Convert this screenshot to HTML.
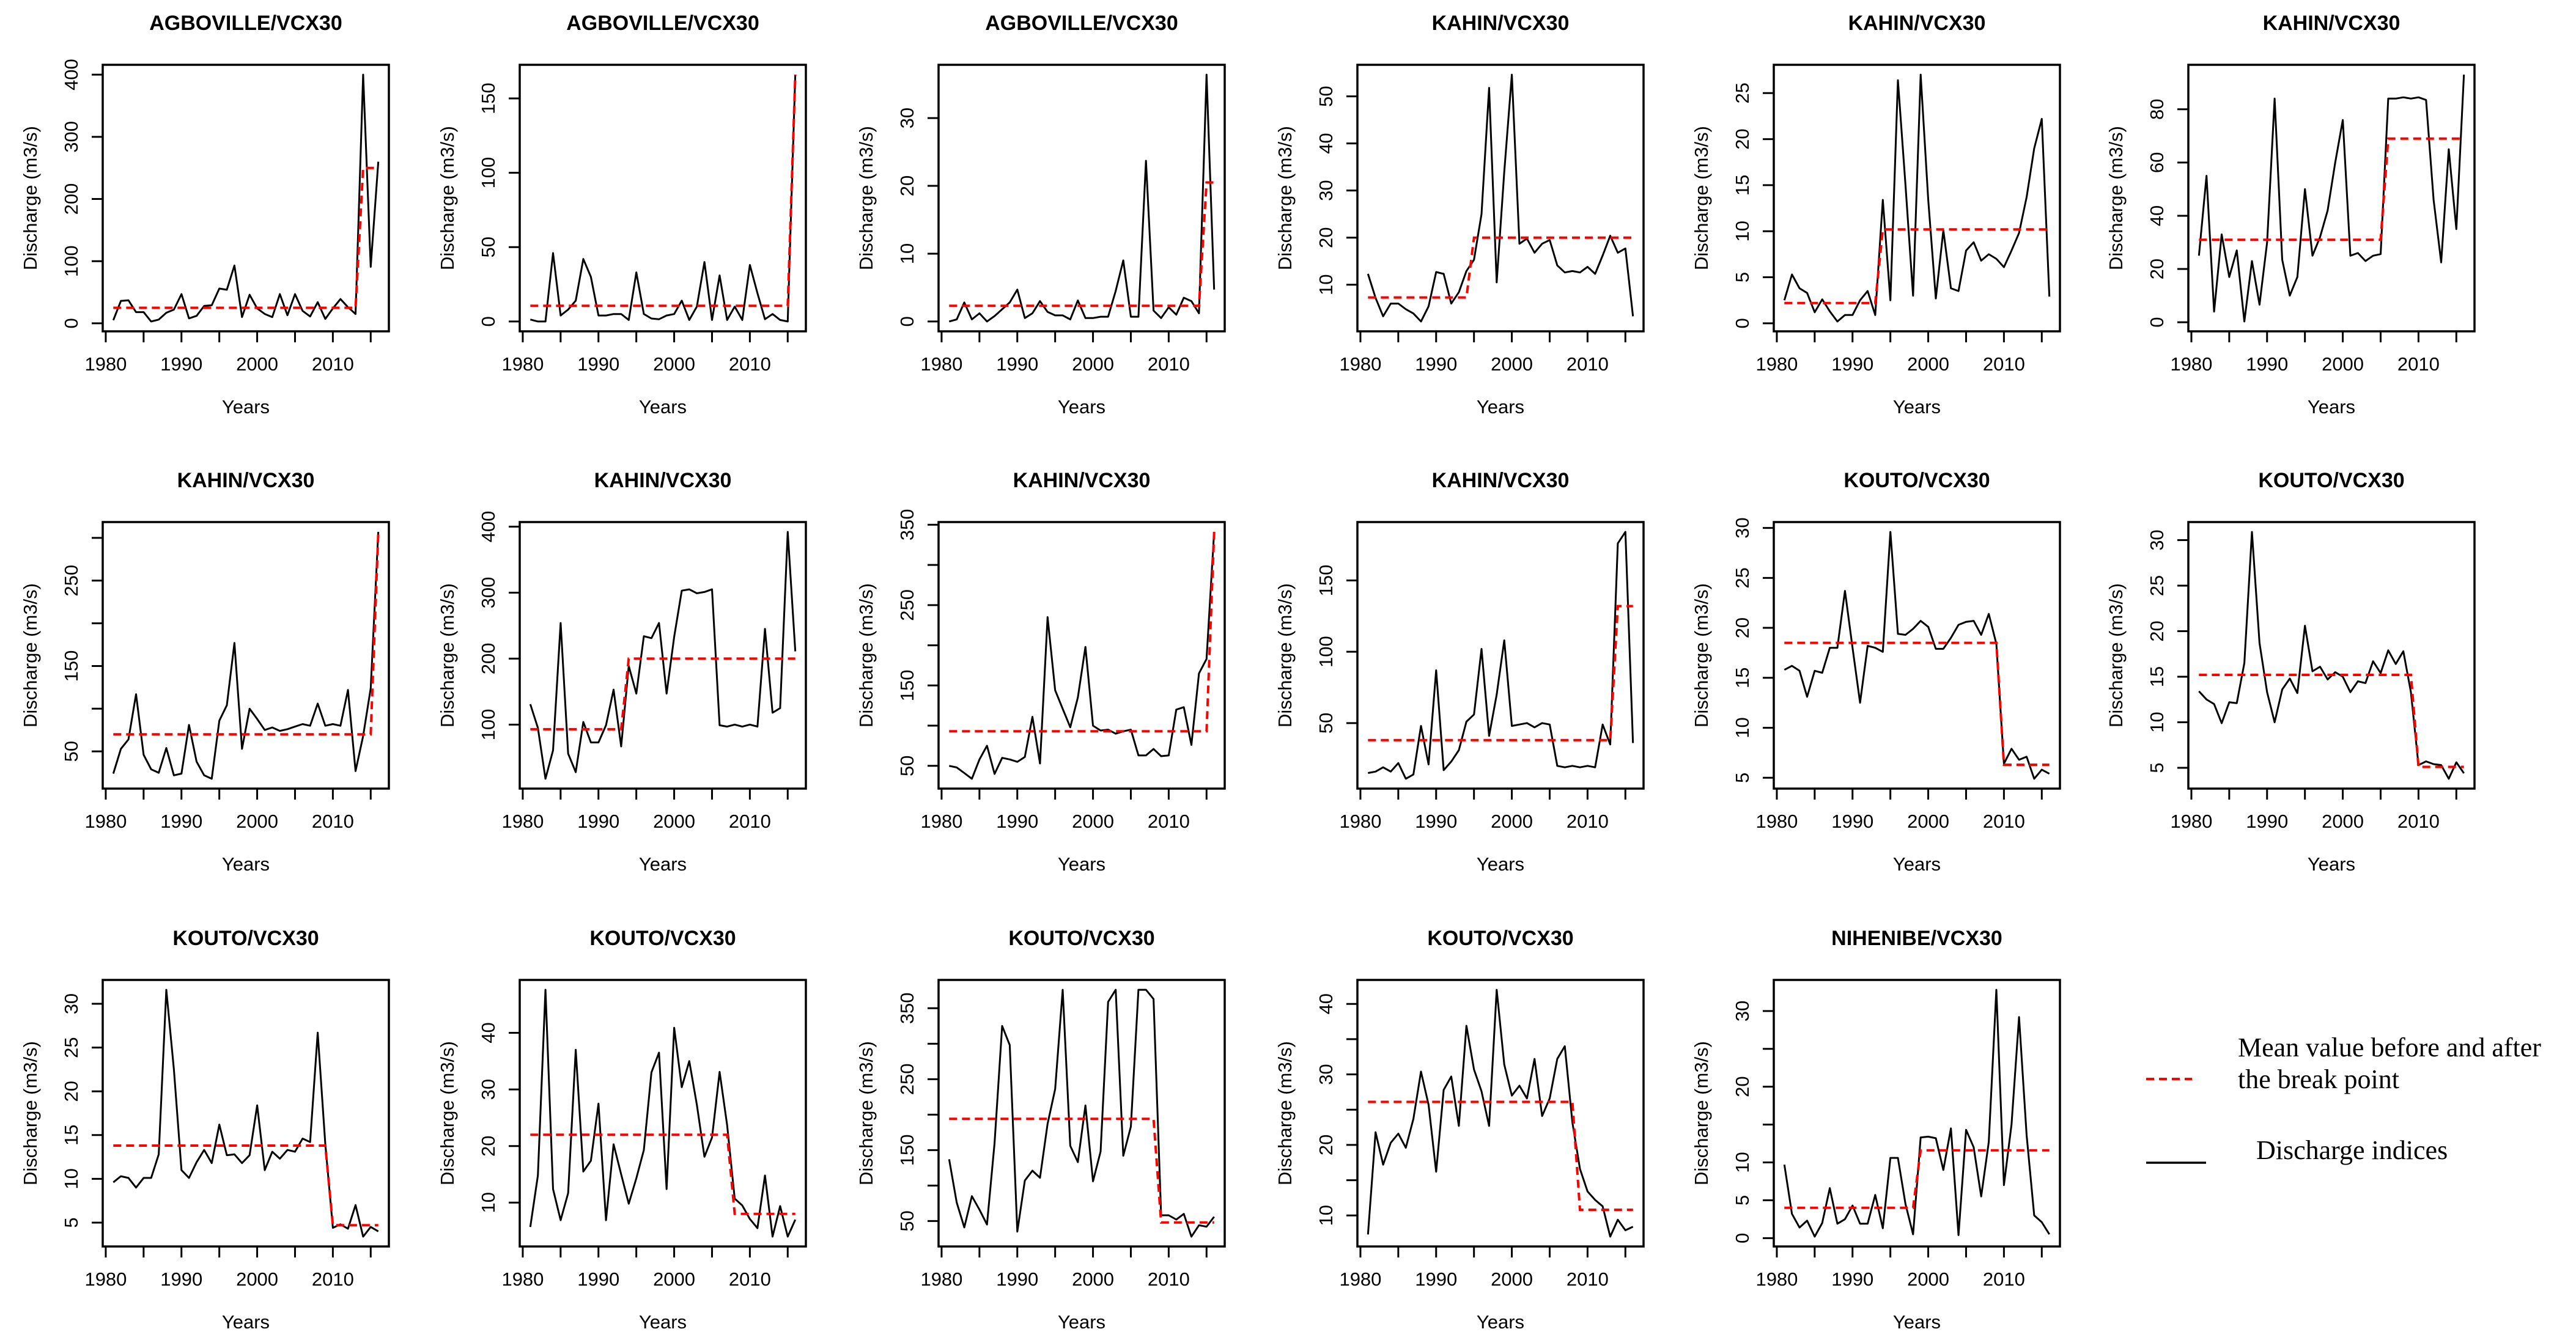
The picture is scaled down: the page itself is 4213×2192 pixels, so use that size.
<!DOCTYPE html>
<html><head><meta charset="utf-8"><title>Discharge break-point panels</title>
<style>
html,body{margin:0;padding:0;background:#fff;}
svg{display:block;}
text{font-family:"Liberation Sans",Arial,sans-serif;fill:#000;}
.title{font-weight:bold;font-size:34px;}
.tick{font-size:31px;}
.lab{font-size:31px;}
.leg{font-family:"Liberation Serif","Times New Roman",serif;font-size:44px;}
</style></head>
<body>
<svg id="chart" width="4213" height="2192" viewBox="0 0 4213 2192" xmlns="http://www.w3.org/2000/svg">
<rect x="0" y="0" width="4213" height="2192" fill="#fff"/>
<g id="panels"></g>
<g id="legend">
  <line x1="3510" y1="1765" x2="3585" y2="1765" stroke="#ff0000" stroke-width="4" stroke-dasharray="13,8"/>
  <text class="leg" x="3660" y="1728">Mean value before and after</text>
  <text class="leg" x="3660" y="1780">the break point</text>
  <line x1="3510" y1="1902" x2="3608" y2="1902" stroke="#000" stroke-width="3.5"/>
  <text class="leg" x="3690" y="1896">Discharge indices</text>
</g>
</svg>
<script>
const years = [1981,1982,1983,1984,1985,1986,1987,1988,1989,1990,1991,1992,1993,1994,1995,1996,1997,1998,1999,2000,2001,2002,2003,2004,2005,2006,2007,2008,2009,2010,2011,2012,2013,2014,2015,2016];
const titles = ["AGBOVILLE/VCX30","AGBOVILLE/VCX30","AGBOVILLE/VCX30","KAHIN/VCX30","KAHIN/VCX30","KAHIN/VCX30","KAHIN/VCX30","KAHIN/VCX30","KAHIN/VCX30","KAHIN/VCX30","KOUTO/VCX30","KOUTO/VCX30","KOUTO/VCX30","KOUTO/VCX30","KOUTO/VCX30","KOUTO/VCX30","NIHENIBE/VCX30"];
const s1 = [5,36,37,18,18,3,6,17,22,47,8,12,28,29,56,54,93,10,46,24,15,10,47,13,47,20,11,34,7,24,39,26,15,400,91,260];
const s2 = [1.3,0,0,46,4,8,14,42,30,4,4,5,5,1,33,5,2,1.5,4,5,14,1,10,40,1,31,1,10,1,38,19,1.5,5,1,0,166];
const s3 = [0,0.3,2.8,0.3,1.2,0,0.8,1.8,2.8,4.7,0.5,1.2,3,1.4,0.9,0.9,0.3,3.1,0.5,0.5,0.7,0.7,4.5,9,0.7,0.7,23.7,1.6,0.5,2.1,1,3.5,3,1.2,36.4,4.7];
const s4 = [12.3,7.2,3.3,6,6,4.8,3.9,2.2,5.4,12.7,12.3,6,8.4,12.9,15.3,25,51.8,10.5,34,54.6,18.7,19.8,16.8,18.7,19.5,14.1,12.6,12.9,12.6,13.8,12.3,16.2,20.4,16.8,17.7,3.3];
const s5 = [2.5,5.3,3.8,3.3,1.2,2.6,1.3,0.2,0.9,0.9,2.5,3.5,0.9,13.4,2.5,26.4,15,3,27,13.4,2.7,10.1,3.8,3.5,7.9,8.8,6.8,7.5,7,6.1,7.9,9.8,13.7,19,22.2,2.9];
const s6 = [25,55,4,33,17,27,0.3,23,6.6,30,84,23.5,10,17,50,25,32,42,60,76,25,26,23,25,25.6,84,84,84.5,84,84.5,83.5,46,22.5,65,35,93];
const s7 = [24,53,64,117,46,29,25,54,22,24,81,38,22,18,86,104,177,53,100,88,75,78,74,76,79,82,80,106,80,82,80,122,27,68,124,307];
const s8 = [131,95,18,61,254,56,28,104,73,73,99,153,67,189,147,234,231,254,147,233,303,305,299,301,305,99,97,100,97,100,97,245,118,125,392,211];
const s9 = [50,48,41,34,58,75,40,60,58,55,61,111,53,235,144,121,98,135,198,100,94,95,90,93,95,63,63,71,62,63,120,123,76,165,183,341];
const s10 = [15,16,19,16,22,11,14,48,21,87,17,23,31,51,56,102,41,70,108,48,49,50,47,50,49,20,19,20,19,20,19,49,35,176,184,36];
const s11 = [15.8,16.2,15.7,13.1,15.7,15.5,18,18,23.7,18,12.5,18.2,18,17.6,29.6,19.4,19.3,19.9,20.7,20.1,17.9,17.9,19,20.3,20.6,20.7,19.3,21.4,18.4,6.4,7.9,6.8,7.1,4.9,5.8,5.4];
const s12 = [13.4,12.5,12,9.9,12.2,12.1,16.5,30.9,18.7,13.3,10,13.6,14.8,13.2,20.6,15.6,16.1,14.7,15.5,15,13.3,14.5,14.3,16.7,15.4,17.9,16.4,17.8,13.3,5.3,5.7,5.4,5.3,3.8,5.6,4.4];
const s13 = [9.6,10.3,10.1,9,10.1,10.1,12.8,31.6,22.5,11,10.1,11.9,13.3,11.8,16.2,12.7,12.8,11.8,12.7,18.4,11,13.1,12.3,13.3,13.1,14.6,14.2,26.7,14,4.4,4.8,4.3,7,3.4,4.5,4];
const s14 = [5.7,14.8,47.6,12.4,6.9,11.7,37,15.5,17.4,27.5,6.9,20.3,15,9.8,14.3,19.3,33,36.5,12.4,40.9,30.4,35,27.3,18.1,21.5,33.1,23.7,10.7,9.5,7.1,5.5,14.8,4,9.4,4,7];
const s15 = [137,76,41,85,66,45,160,325,298,35,107,121,111,187,236,376,156,133,213,106,148,359,376,142,183,376,376,363,58,58,52,60,28,44,42,56];
const s16 = [7.3,21.8,17.2,20.3,21.6,19.6,23.7,30.4,25.7,16.2,27.8,29.7,22.7,36.9,30.7,27.6,22.7,42,31.4,27,28.4,26.6,32.2,24.1,26.6,32.2,34,23.2,16.6,13.4,12.2,11.3,7,9.4,7.9,8.4];
const s17 = [9.7,3.2,1.4,2.3,0.2,2,6.6,1.9,2.5,4.3,1.9,1.9,5.7,1.3,10.6,10.6,4.5,0.5,13.3,13.4,13.2,9,14.5,0.4,14.3,12,5.5,12.7,32.8,7,15,29.2,13.6,3,2.1,0.5];
const breakYears = [2013,2015,2014,1994,1993,2005,2015,1993,2015,2013,2009,2009,2009,2007,2008,2008,1998];
const meanBefore = [25,10.5,2.3,7.3,2.2,31,70,93,93,38,18.5,15.2,13.8,22,194,26.1,4];
const meanAfter = [250,166,20.5,20,10.2,69,307,200,341,132,6.3,5.1,4.7,8,48,10.8,11.6];
const yTicks = [[0,100,200,300,400],[0,50,100,150],[0,10,20,30],[10,20,30,40,50],[0,5,10,15,20,25],[0,20,40,60,80],[50,100,150,200,250,300],[100,200,300,400],[50,100,150,200,250,300,350],[50,100,150],[5,10,15,20,25,30],[5,10,15,20,25,30],[5,10,15,20,25,30],[10,20,30,40],[50,100,150,200,250,300,350],[10,15,20,25,30,35,40],[0,5,10,15,20,25,30]];
const yLabels = [[0,100,200,300,400],[0,50,100,150],[0,10,20,30],[10,20,30,40,50],[0,5,10,15,20,25],[0,20,40,60,80],[50,150,250],[100,200,300,400],[50,150,250,350],[50,100,150],[5,10,15,20,25,30],[5,10,15,20,25,30],[5,10,15,20,25,30],[10,20,30,40],[50,150,250,350],[10,20,30,40],[0,5,10,20,30]];
const xTicks = [1980,1985,1990,1995,2000,2005,2010,2015];
const xLabels = [1980,1990,2000,2010];

const series = [s1,s2,s3,s4,s5,s6,s7,s8,s9,s10,s11,s12,s13,s14,s15,s16,s17];
const colLeft = [168,850,1535,2220,2901,3579];
const rowTop = [106,854,1603];
const BW = 468, BH = 436;
const NS = "http://www.w3.org/2000/svg";
const root = document.getElementById('panels');

function mk(tag, attrs, parent){
  const e = document.createElementNS(NS, tag);
  for (const k in attrs) e.setAttribute(k, attrs[k]);
  parent.appendChild(e);
  return e;
}

series.forEach(function(data, p){
  const L = colLeft[p % 6], T = rowTop[Math.floor(p / 6)];
  const R = L + BW, B = T + BH;
  const xmin = years[0], xmax = years[years.length-1];
  const xpad = (xmax - xmin) * 0.04;
  const xScale = function(v){ return L + (v - (xmin - xpad)) / ((xmax - xmin) + 2*xpad) * BW; };
  const all = data.concat([meanBefore[p], meanAfter[p]]);
  const ymin = Math.min.apply(null, all), ymax = Math.max.apply(null, all);
  const ypad = (ymax - ymin) * 0.04;
  const yScale = function(v){ return B - (v - (ymin - ypad)) / ((ymax - ymin) + 2*ypad) * BH; };

  const g = mk('g', {}, root);
  
  

  const t = mk('text', {x: L + BW/2, y: T - 57, 'text-anchor': 'middle', class: 'title'}, g);
  t.textContent = titles[p];
  
  

  // discharge line
  const pts = data.map(function(v, i){ return xScale(years[i]).toFixed(1) + ',' + yScale(v).toFixed(1); }).join(' ');
  const pl = mk('polyline', {points: pts, fill: 'none', stroke: '#000', 'stroke-width': 3, 'stroke-linejoin': 'round'}, g);
  
  

  // mean line
  const mpts = years.map(function(yr){
    const m = yr <= breakYears[p] ? meanBefore[p] : meanAfter[p];
    return xScale(yr).toFixed(1) + ',' + yScale(m).toFixed(1);
  }).join(' ');
  const ml = mk('polyline', {points: mpts, fill: 'none', stroke: '#ff0000', 'stroke-width': 4, 'stroke-dasharray': '13,8'}, g);
  
  

  // box
  const box = mk('rect', {x: L, y: T, width: BW, height: BH, fill: 'none', stroke: '#000', 'stroke-width': 3.5}, g);
  
  

  // x axis
  const xa = mk('g', {}, g);
  
  
  xTicks.forEach(function(v){
    const x = xScale(v);
    mk('line', {x1: x, y1: B, x2: x, y2: B + 18, stroke: '#000', 'stroke-width': 3}, xa);
  });
  xLabels.forEach(function(v){
    const tl = mk('text', {x: xScale(v), y: B + 64, 'text-anchor': 'middle', class: 'tick'}, xa);
    tl.textContent = String(v);
    
    
  });
  const xt = mk('text', {x: L + BW/2, y: B + 134, 'text-anchor': 'middle', class: 'lab'}, xa);
  xt.textContent = 'Years';
  
  

  // y axis
  const ya = mk('g', {}, g);
  
  
  yTicks[p].forEach(function(v){
    const y = yScale(v);
    mk('line', {x1: L - 18, y1: y, x2: L, y2: y, stroke: '#000', 'stroke-width': 3}, ya);
  });
  yLabels[p].forEach(function(v){
    const y = yScale(v), x = L - 41;
    const tl = mk('text', {x: x, y: y, 'text-anchor': 'middle', class: 'tick', transform: 'rotate(-90 ' + x + ' ' + y + ')'}, ya);
    tl.textContent = String(v);
    
    
  });
  const yx = L - 108, yy = T + BH/2;
  const yt = mk('text', {x: yx, y: yy, 'text-anchor': 'middle', class: 'lab', transform: 'rotate(-90 ' + yx + ' ' + yy + ')'}, ya);
  yt.textContent = 'Discharge (m3/s)';
  
  
});
</script>
</body></html>
